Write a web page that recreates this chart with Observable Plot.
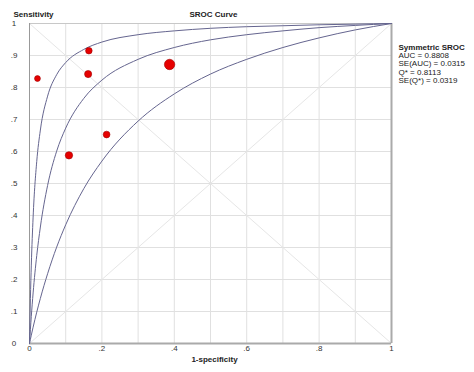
<!DOCTYPE html>
<html><head><meta charset="utf-8">
<script src="https://cdn.jsdelivr.net/npm/d3@7"></script>
<script src="https://cdn.jsdelivr.net/npm/@observablehq/plot@0.6"></script>
<style>html,body{margin:0;padding:0;background:#fff} svg{display:block}</style>
</head><body><div id="chart"></div>
<script>
// SROC curves: false-positive rate vs sensitivity
const curveFpr    = [0, 0.0025, 0.005, 0.01, 0.02, 0.03, 0.05, 0.075, 0.1, 0.15, 0.2, 0.3, 0.4, 0.5, 0.6, 0.7, 0.8, 0.9, 1];
const upperSens   = [0, 0.140, 0.245, 0.395, 0.569, 0.667, 0.773, 0.840, 0.878, 0.919, 0.942, 0.965, 0.977, 0.985, 0.990, 0.993, 0.996, 0.998, 1];
const fittedSens  = [0, 0.044, 0.085, 0.158, 0.275, 0.364, 0.494, 0.601, 0.673, 0.766, 0.823, 0.888, 0.925, 0.949, 0.965, 0.977, 0.987, 0.994, 1];
const lowerSens   = [0, 0.013, 0.026, 0.051, 0.098, 0.141, 0.218, 0.301, 0.371, 0.484, 0.570, 0.695, 0.780, 0.842, 0.888, 0.925, 0.955, 0.980, 1];

// studies
const studyFpr    = [0.022, 0.164, 0.162, 0.387, 0.109, 0.213];
const studySens   = [0.828, 0.915, 0.842, 0.872, 0.588, 0.653];
const studyWeight = [30, 38, 45, 95, 48, 40];

// ticks and texts
const gridTicks   = [0, 0.1, 0.2, 0.3, 0.4, 0.5, 0.6, 0.7, 0.8, 0.9, 1];
const xLabelTicks = [0, 0.2, 0.4, 0.6, 0.8, 1];
const yLabelTicks = [0, 0.1, 0.2, 0.3, 0.4, 0.5, 0.6, 0.7, 0.8, 0.9, 1];
const diagFrom    = [[0, 0], [0, 1]];
const diagTo      = [[1, 1], [1, 0]];
const yTitle      = "Sensitivity";
const chartTitle  = "SROC Curve";
const xTitle      = "1-specificity";
const statsTitle  = "Symmetric SROC";
const statsLines  = ["AUC = 0.8808", "SE(AUC) = 0.0315", "Q* = 0.8113", "SE(Q*) = 0.0319"];

const curveRows = curveFpr.flatMap((x, i) => [
  {x, y: upperSens[i], s: "upper"},
  {x, y: fittedSens[i], s: "fitted"},
  {x, y: lowerSens[i], s: "lower"}
]);
const studies = studyFpr.map((x, i) => ({x, y: studySens[i], w: studyWeight[i]}));
const diags = diagFrom.map((a, i) => ({x1: a[0], y1: a[1], x2: diagTo[i][0], y2: diagTo[i][1]}));
const fmt = v => v === 0 ? "0" : v === 1 ? "1" : d3.format(".1f")(v).replace(/^0/, "");

const chart = Plot.plot({
  width: 474, height: 372,
  marginLeft: 29, marginRight: 83, marginTop: 23, marginBottom: 29,
  x: {domain: [0, 1]},
  y: {domain: [0, 1]},
  r: {type: "sqrt", domain: [0, 95], range: [0, 5.2]},
  style: {fontFamily: "'Liberation Sans', Arial, sans-serif", fontSize: "8px", color: "#222", background: "#fff"},
  marks: [
    Plot.gridX(gridTicks, {stroke: "#e0e0e0", strokeOpacity: 1}),
    Plot.gridY(gridTicks, {stroke: "#e0e0e0", strokeOpacity: 1}),
    Plot.link(diags, {x1: "x1", y1: "y1", x2: "x2", y2: "y2", stroke: "#e6e6e6", strokeWidth: 1}),
    Plot.ruleY([1], {stroke: "#c8c8c8"}),
    Plot.ruleX([0], {stroke: "#999"}),
    Plot.ruleX([1], {stroke: "#aaa", strokeWidth: 2}),
    Plot.ruleY([0], {stroke: "#aaa", strokeWidth: 2}),
    Plot.line(curveRows, {x: "x", y: "y", z: "s", curve: "monotone-x", stroke: "#65658f", strokeWidth: 1}),
    Plot.dot(studies, {x: "x", y: "y", r: "w", fill: "#e60000", stroke: "#a00000", strokeWidth: 0.6}),
    Plot.axisX(xLabelTicks, {tickSize: 0, tickPadding: 2, tickFormat: fmt, label: null, fill: "#333"}),
    Plot.axisY(yLabelTicks, {tickSize: 0, tickPadding: 15.5, textAnchor: "middle", tickFormat: fmt, label: null, fill: "#333"}),
    Plot.text([yTitle], {text: d => d, frameAnchor: "top-left", dx: -16, dy: -9, textAnchor: "start", lineAnchor: "middle", fontWeight: "bold"}),
    Plot.text([chartTitle], {text: d => d, frameAnchor: "top", dx: 3, dy: -9, lineAnchor: "middle", fontWeight: "bold"}),
    Plot.text([xTitle], {text: d => d, frameAnchor: "bottom", dx: 4, dy: 16, lineAnchor: "middle", fontWeight: "bold"}),
    Plot.text([statsTitle], {text: d => d, frameAnchor: "top-right", dx: 7, dy: 23.7, textAnchor: "start", lineAnchor: "middle", fontWeight: "bold"}),
    Plot.text([statsLines.join("\n")], {text: d => d, frameAnchor: "top-right", dx: 7, dy: 28, textAnchor: "start", lineAnchor: "top", lineHeight: 1.07})
  ]
});
document.getElementById("chart").appendChild(chart);
</script>
</body></html>
